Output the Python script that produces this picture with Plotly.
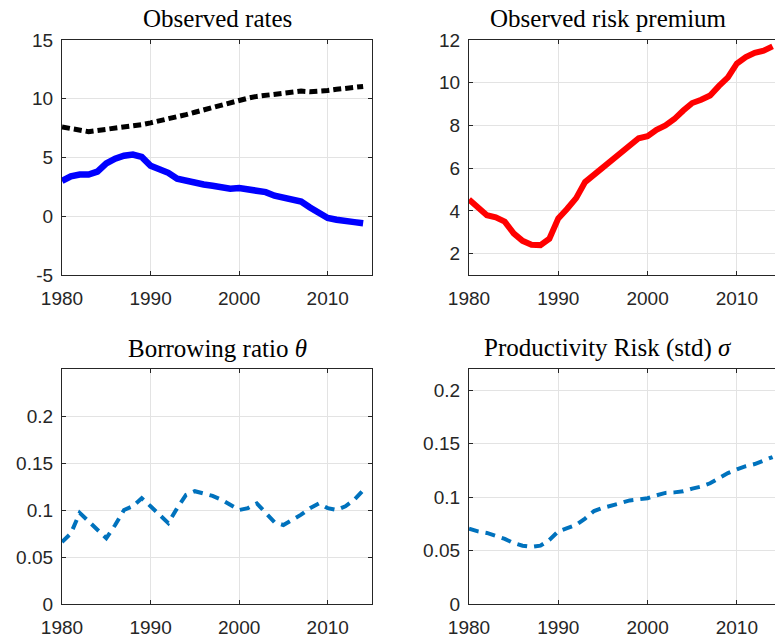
import plotly.graph_objects as go

years = list(range(1980, 2015))

rate_high = [7.6, 7.5, 7.3, 7.2, 7.3, 7.4, 7.5, 7.6, 7.6, 7.8,
             7.95, 8.1, 8.3, 8.5, 8.65, 8.85, 9.05, 9.25, 9.5, 9.75,
             9.9, 10.05, 10.2, 10.3, 10.45, 10.55, 10.65, 10.65, 10.6, 10.6,
             10.7, 10.8, 10.9, 10.95, 11.05]
rate_low = [3.0, 3.4, 3.55, 3.55, 3.8, 4.5, 4.9, 5.15, 5.25, 5.05,
            4.3, 4.0, 3.7, 3.2, 3.0, 2.85, 2.7, 2.6, 2.45, 2.35,
            2.4, 2.25, 2.2, 2.05, 1.75, 1.55, 1.45, 1.25, 0.75, 0.3,
            -0.15, -0.3, -0.45, -0.5, -0.6]
risk_premium = [4.53, 4.16, 3.8, 3.7, 3.5, 2.95, 2.6, 2.42, 2.4, 2.7,
                3.65, 4.1, 4.6, 5.35, 5.7, 6.05, 6.4, 6.7, 7.1, 7.4,
                7.5, 7.8, 8.0, 8.3, 8.7, 9.05, 9.2, 9.4, 9.85, 10.25,
                10.9, 11.2, 11.4, 11.5, 11.7]
theta = [0.066, 0.075, 0.097, 0.088, 0.079, 0.070, 0.084, 0.100, 0.104, 0.1126,
         0.104, 0.095, 0.086, 0.102, 0.116, 0.120, 0.118, 0.115, 0.111, 0.105,
         0.100, 0.102, 0.107, 0.097, 0.087, 0.084, 0.089, 0.095, 0.102, 0.107,
         0.102, 0.100, 0.104, 0.111, 0.121]
sigma = [0.0705, 0.068, 0.0665, 0.064, 0.061, 0.057, 0.0546, 0.0534, 0.0546, 0.060,
         0.068, 0.071, 0.074, 0.080, 0.087, 0.090, 0.092, 0.0945, 0.097, 0.098,
         0.099, 0.1017, 0.104, 0.1045, 0.1055, 0.108, 0.110, 0.113, 0.118, 0.1226,
         0.126, 0.129, 0.131, 0.134, 0.1376]

titles = ["Observed rates", "Observed risk premium",
          "Borrowing ratio <i>θ</i>", "Productivity Risk (std) <i>σ</i>"]
x_ticks = [1980, 1990, 2000, 2010]

W, H = 775, 644

def sx(px):
    return px / W

def sy(py):
    return 1 - py / H

fig = go.Figure()

fig.add_trace(go.Scatter(x=years, y=rate_high, mode="lines", xaxis="x", yaxis="y",
                         line=dict(color="black", width=5, dash="8px,4px")))
fig.add_trace(go.Scatter(x=years, y=rate_low, mode="lines", xaxis="x", yaxis="y",
                         line=dict(color="#0000ff", width=6.5)))
fig.add_trace(go.Scatter(x=years, y=risk_premium, mode="lines", xaxis="x2", yaxis="y2",
                         line=dict(color="#ff0000", width=6)))
fig.add_trace(go.Scatter(x=years, y=theta, mode="lines", xaxis="x3", yaxis="y3",
                         line=dict(color="#0072BD", width=4, dash="10px,7px")))
fig.add_trace(go.Scatter(x=years, y=sigma, mode="lines", xaxis="x4", yaxis="y4",
                         line=dict(color="#0072BD", width=4, dash="10px,7px")))

tick_font = dict(family="Liberation Sans, Arial", size=19, color="#262626")
grid = "#e3e3e3"
axcol = "#262626"

def xax(domain, anchor, rng):
    return dict(domain=domain, anchor=anchor, range=rng, tickvals=x_ticks,
                automargin=False,
                showgrid=True, gridcolor=grid, gridwidth=1, zeroline=False,
                showline=True, linecolor=axcol, linewidth=1.2, mirror="ticks",
                ticks="inside", ticklen=4, tickcolor=axcol, tickfont=tick_font,
                ticklabelstandoff=6)

def yax(domain, anchor, rng, tv, tt, mirror):
    return dict(domain=domain, anchor=anchor, range=rng, tickvals=tv, ticktext=tt,
                automargin=False,
                showgrid=True, gridcolor=grid, gridwidth=1, zeroline=False,
                showline=True, linecolor=axcol, linewidth=1.2, mirror=mirror,
                ticks="inside", ticklen=4, tickcolor=axcol, tickfont=tick_font,
                ticklabelstandoff=4)

xl = [sx(62), sx(372)]
xr = [sx(469), 1.0]
yt = [sy(275), sy(40)]
yb = [sy(604), sy(369)]

fig.update_layout(
    width=W, height=H,
    margin=dict(l=0, r=0, t=0, b=0, autoexpand=False),
    paper_bgcolor="white", plot_bgcolor="white",
    showlegend=False,
    xaxis=xax(xl, "y", [1980, 2015]),
    yaxis=yax(yt, "x", [-5, 15], [-5, 0, 5, 10, 15], ["-5", "0", "5", "10", "15"], "ticks"),
    xaxis2=xax(xr, "y2", [1980, 2014.27]),
    yaxis2=yax(yt, "x2", [1, 12], [2, 4, 6, 8, 10, 12], ["2", "4", "6", "8", "10", "12"], False),
    xaxis3=xax(xl, "y3", [1980, 2015]),
    yaxis3=yax(yb, "x3", [0, 0.25], [0, 0.05, 0.1, 0.15, 0.2], ["0", "0.05", "0.1", "0.15", "0.2"], "ticks"),
    xaxis4=xax(xr, "y4", [1980, 2014.27]),
    yaxis4=yax(yb, "x4", [0, 0.22], [0, 0.05, 0.1, 0.15, 0.2], ["0", "0.05", "0.1", "0.15", "0.2"], False),
)

title_font = dict(family="Liberation Serif, Times New Roman, serif", size=25, color="black")
centers = [(217, 18), (608, 18), (217, 348), (608, 348)]
for (cx, cy), t in zip(centers, titles):
    fig.add_annotation(text=t, x=sx(cx), y=sy(cy), xref="paper", yref="paper",
                       showarrow=False, font=title_font, xanchor="center", yanchor="middle")

fig.write_html(
    "out.html",
    config={"displayModeBar": False},
    post_script="document.body.style.margin='0';document.body.style.overflow='hidden';",
)
